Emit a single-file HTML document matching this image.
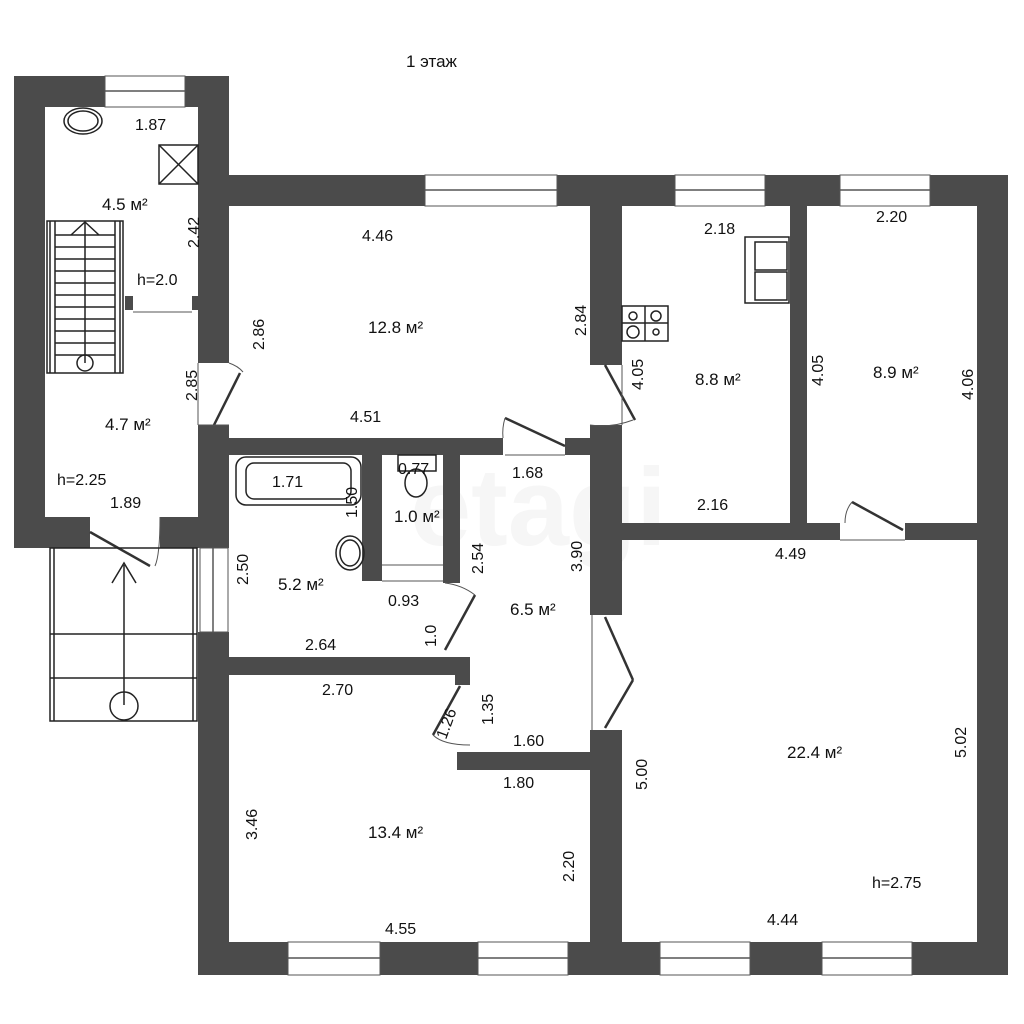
<!DOCTYPE html>
<html><head><meta charset="utf-8"><style>
html,body{margin:0;padding:0;background:#fff}
svg{display:block}
text{font-family:"Liberation Sans Narrow","Liberation Sans",sans-serif;font-size:16px;fill:#111}
.a{font-size:17px}
</style></head><body>
<svg width="1024" height="1024" viewBox="0 0 1024 1024" xmlns="http://www.w3.org/2000/svg">
<rect width="1024" height="1024" fill="#fff"/>
<text x="410" y="545" style="font-size:110px;fill:#f6f6f6;font-weight:bold">etagi</text>
<g fill="#4b4b4b">
<rect x="14" y="76" width="215" height="31"/>
<rect x="14" y="76" width="31" height="472"/>
<rect x="14" y="517" width="76" height="31"/>
<rect x="160" y="517" width="69" height="31"/>
<rect x="198" y="76" width="31" height="287"/>
<rect x="198" y="425" width="31" height="123"/>
<rect x="198" y="632" width="31" height="343"/>
<rect x="125" y="296" width="8" height="14"/>
<rect x="192" y="296" width="6" height="14"/>
<rect x="198" y="175" width="810" height="31"/>
<rect x="977" y="175" width="31" height="800"/>
<rect x="198" y="942" width="810" height="33"/>
<rect x="590" y="206" width="32" height="159"/>
<rect x="229" y="438" width="274" height="17"/>
<rect x="565" y="438" width="57" height="17"/>
<rect x="590" y="425" width="32" height="190"/>
<rect x="590" y="730" width="32" height="212"/>
<rect x="790" y="206" width="17" height="334"/>
<rect x="607" y="523" width="233" height="17"/>
<rect x="905" y="523" width="72" height="17"/>
<rect x="362" y="455" width="20" height="126"/>
<rect x="443" y="455" width="17" height="128"/>
<rect x="229" y="657" width="241" height="18"/>
<rect x="455" y="657" width="15" height="28"/>
<rect x="457" y="752" width="15" height="18"/>
<rect x="457" y="752" width="135" height="18"/>
</g>
<g fill="#fff" stroke="#555" stroke-width="1">
<rect x="105" y="76" width="80" height="31"/>
<rect x="425" y="175" width="132" height="31"/>
<rect x="675" y="175" width="90" height="31"/>
<rect x="840" y="175" width="90" height="31"/>
<rect x="288" y="942" width="92" height="33"/>
<rect x="478" y="942" width="90" height="33"/>
<rect x="660" y="942" width="90" height="33"/>
<rect x="822" y="942" width="90" height="33"/>
<rect x="200" y="548" width="28" height="84"/>
</g>
<g stroke="#555" stroke-width="1.5" fill="none">
<line x1="105" y1="91" x2="185" y2="91"/><line x1="425" y1="190" x2="557" y2="190"/>
<line x1="675" y1="190" x2="765" y2="190"/><line x1="840" y1="190" x2="930" y2="190"/>
<line x1="288" y1="958" x2="380" y2="958"/><line x1="478" y1="958" x2="568" y2="958"/>
<line x1="660" y1="958" x2="750" y2="958"/><line x1="822" y1="958" x2="912" y2="958"/>
<line x1="213" y1="548" x2="213" y2="632"/>
</g>
<g stroke="#333" stroke-width="2.5" fill="none">
<line x1="214" y1="425" x2="240" y2="373"/>
<line x1="505" y1="418" x2="565" y2="446"/>
<line x1="605" y1="365" x2="635" y2="420"/>
<line x1="852" y1="502" x2="903" y2="530"/>
<line x1="90" y1="532" x2="150" y2="566"/>
<line x1="445" y1="650" x2="475" y2="595"/>
<line x1="460" y1="686" x2="433" y2="735"/>
<line x1="605" y1="617" x2="633" y2="680"/><line x1="633" y1="680" x2="605" y2="728"/>
</g>
<g stroke="#555" stroke-width="1" fill="none">
<path d="M229,363 Q238,366 243,372"/><path d="M198,425 L229,425"/>
<path d="M505,418 Q502,428 503,438"/><path d="M590,425 Q612,428 633,420"/>
<path d="M852,502 Q845,510 845,523"/><path d="M155,566 Q160,555 160,517"/>
<line x1="90" y1="548" x2="160" y2="548"/><line x1="198" y1="363" x2="198" y2="425"/>
<path d="M445,583 Q462,585 475,595"/><path d="M433,735 Q443,745 470,745"/>
<line x1="592" y1="615" x2="592" y2="730"/><line x1="505" y1="455" x2="565" y2="455"/>
<line x1="382" y1="565" x2="443" y2="565"/><line x1="382" y1="581" x2="443" y2="581"/>
<line x1="133" y1="312" x2="192" y2="312"/><line x1="622" y1="365" x2="622" y2="425"/>
<line x1="840" y1="540" x2="905" y2="540"/>
</g>
<g stroke="#222" stroke-width="1.5" fill="none">
<rect x="47" y="221" width="76" height="152"/>
<line x1="50" y1="221" x2="50" y2="373"/><line x1="120" y1="221" x2="120" y2="373"/>
<line x1="55" y1="221" x2="55" y2="373"/><line x1="115" y1="221" x2="115" y2="373"/>
<line x1="55" y1="235" x2="115" y2="235"/><line x1="55" y1="247" x2="115" y2="247"/>
<line x1="55" y1="259" x2="115" y2="259"/><line x1="55" y1="271" x2="115" y2="271"/>
<line x1="55" y1="283" x2="115" y2="283"/><line x1="55" y1="295" x2="115" y2="295"/>
<line x1="55" y1="307" x2="115" y2="307"/><line x1="55" y1="319" x2="115" y2="319"/>
<line x1="55" y1="331" x2="115" y2="331"/><line x1="55" y1="343" x2="115" y2="343"/>
<line x1="55" y1="355" x2="115" y2="355"/>
<line x1="85" y1="222" x2="85" y2="363"/><polyline points="71,235 85,222 99,235"/>
<circle cx="85" cy="363" r="8"/>
<rect x="159" y="145" width="39" height="39"/><line x1="159" y1="145" x2="198" y2="184"/><line x1="198" y1="145" x2="159" y2="184"/>
<ellipse cx="83" cy="121" rx="19" ry="13"/><ellipse cx="83" cy="121" rx="15" ry="10"/>
<rect x="50" y="548" width="147" height="173"/><line x1="54" y1="548" x2="54" y2="721"/><line x1="193" y1="548" x2="193" y2="721"/>
<line x1="50" y1="634" x2="197" y2="634"/><line x1="50" y1="678" x2="197" y2="678"/>
<line x1="124" y1="565" x2="124" y2="705"/><polyline points="112,583 124,563 136,583"/>
<circle cx="124" cy="706" r="14"/>
<rect x="236" y="457" width="125" height="48" rx="10"/><rect x="246" y="463" width="105" height="36" rx="8"/>
<ellipse cx="350" cy="553" rx="14" ry="17"/><ellipse cx="350" cy="553" rx="10" ry="13"/>
<rect x="398" y="455" width="38" height="16"/><ellipse cx="416" cy="483" rx="11" ry="14"/>
<rect x="745" y="237" width="44" height="66"/><rect x="755" y="242" width="32" height="28"/><rect x="755" y="272" width="32" height="28"/>
<rect x="622" y="306" width="46" height="35"/><line x1="645" y1="306" x2="645" y2="341"/><line x1="622" y1="323" x2="668" y2="323"/>
<circle cx="633" cy="316" r="4"/><circle cx="656" cy="316" r="5"/><circle cx="633" cy="332" r="6"/><circle cx="656" cy="332" r="3"/>
</g>
<text x="406" y="67" class="a">1 этаж</text>
<text x="135" y="130">1.87</text>
<text x="102" y="210" class="a">4.5 м²</text>
<text x="137" y="285">h=2.0</text>
<text x="105" y="430" class="a">4.7 м²</text>
<text x="57" y="485">h=2.25</text>
<text x="110" y="508">1.89</text>
<text x="362" y="241">4.46</text>
<text x="368" y="333" class="a">12.8 м²</text>
<text x="350" y="422">4.51</text>
<text x="272" y="487">1.71</text>
<text x="398" y="474">0.77</text>
<text x="394" y="522" class="a">1.0 м²</text>
<text x="278" y="590" class="a">5.2 м²</text>
<text x="388" y="606">0.93</text>
<text x="305" y="650">2.64</text>
<text x="322" y="695">2.70</text>
<text x="512" y="478">1.68</text>
<text x="510" y="615" class="a">6.5 м²</text>
<text x="513" y="746">1.60</text>
<text x="503" y="788">1.80</text>
<text x="368" y="838" class="a">13.4 м²</text>
<text x="385" y="934">4.55</text>
<text x="704" y="234">2.18</text>
<text x="695" y="385" class="a">8.8 м²</text>
<text x="697" y="510">2.16</text>
<text x="876" y="222">2.20</text>
<text x="873" y="378" class="a">8.9 м²</text>
<text x="775" y="559">4.49</text>
<text x="787" y="758" class="a">22.4 м²</text>
<text x="872" y="888">h=2.75</text>
<text x="767" y="925">4.44</text>
<g>
<text transform="translate(199,248) rotate(-90)">2.42</text>
<text transform="translate(197,401) rotate(-90)">2.85</text>
<text transform="translate(264,350) rotate(-90)">2.86</text>
<text transform="translate(586,336) rotate(-90)">2.84</text>
<text transform="translate(643,390) rotate(-90)">4.05</text>
<text transform="translate(823,386) rotate(-90)">4.05</text>
<text transform="translate(973,400) rotate(-90)">4.06</text>
<text transform="translate(357,518) rotate(-90)">1.50</text>
<text transform="translate(248,585) rotate(-90)">2.50</text>
<text transform="translate(436,647) rotate(-90)">1.0</text>
<text transform="translate(483,574) rotate(-90)">2.54</text>
<text transform="translate(582,572) rotate(-90)">3.90</text>
<text transform="translate(493,725) rotate(-90)">1.35</text>
<text transform="translate(446,740) rotate(-70)">1.26</text>
<text transform="translate(647,790) rotate(-90)">5.00</text>
<text transform="translate(966,758) rotate(-90)">5.02</text>
<text transform="translate(257,840) rotate(-90)">3.46</text>
<text transform="translate(574,882) rotate(-90)">2.20</text>
</g>
</svg>
</body></html>
